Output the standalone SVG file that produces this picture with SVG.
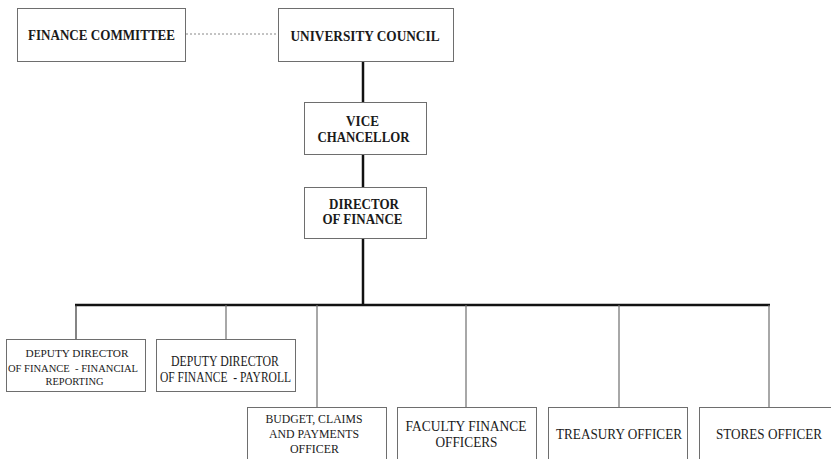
<svg xmlns="http://www.w3.org/2000/svg" width="831" height="459" viewBox="0 0 831 459">
<defs>
<style>
.box{fill:#fff;stroke:#6e6e6e;stroke-width:1}
.thick{stroke:#111;stroke-width:2.5;fill:none}
.thin{stroke:#6e6e6e;stroke-width:1.2;fill:none}
text{font-family:'Liberation Serif',serif;fill:#1a1a1a;text-anchor:middle;white-space:pre}
.b{font-weight:bold;font-size:14px}
.s{font-size:11.3px}
.m{font-size:12.5px}
.r{font-size:14px}
.l{font-size:15px}
</style>
</defs>
<rect width="831" height="459" fill="#fff"/>
<g id="connectors">
<line x1="186" y1="34" x2="278" y2="34" stroke="#888" stroke-width="1" stroke-dasharray="2,2"/>
<line class="thick" x1="363" y1="61" x2="363" y2="102"/>
<line class="thick" x1="363" y1="154" x2="363" y2="187"/>
<line class="thick" x1="363" y1="238" x2="363" y2="305"/>
<line class="thick" x1="75" y1="305" x2="770" y2="305"/>
<line x1="76" y1="305" x2="76" y2="339" stroke="#333" stroke-width="1.2"/>
<line class="thin" x1="226" y1="305" x2="226" y2="339"/>
<line class="thin" x1="317" y1="305" x2="317" y2="407"/>
<line class="thin" x1="466" y1="305" x2="466" y2="407"/>
<line class="thin" x1="619" y1="305" x2="619" y2="407"/>
<line class="thin" x1="769" y1="305" x2="769" y2="407"/>
</g>
<g id="finance-committee">
<rect class="box" x="17.5" y="8.5" width="168" height="53"/>
<text class="b" x="101.5" y="40" textLength="147" lengthAdjust="spacingAndGlyphs">FINANCE COMMITTEE</text>
</g>
<g id="university-council">
<rect class="box" x="278.5" y="8.5" width="175" height="53"/>
<text class="b" x="365" y="40.5" textLength="149" lengthAdjust="spacingAndGlyphs">UNIVERSITY COUNCIL</text>
</g>
<g id="vice-chancellor">
<rect class="box" x="304.5" y="102.5" width="122" height="52"/>
<text class="b" x="362.5" y="126" textLength="33" lengthAdjust="spacingAndGlyphs">VICE</text>
<text class="b" x="363.5" y="141.5" textLength="92" lengthAdjust="spacingAndGlyphs">CHANCELLOR</text>
</g>
<g id="director-of-finance">
<rect class="box" x="304.5" y="187.5" width="122" height="51"/>
<text class="b" x="364" y="209" textLength="70" lengthAdjust="spacingAndGlyphs">DIRECTOR</text>
<text class="b" x="362.5" y="224.3" textLength="80" lengthAdjust="spacingAndGlyphs">OF FINANCE</text>
</g>
<g id="deputy-reporting">
<rect class="box" x="6.5" y="339.5" width="139" height="52"/>
<text class="s" x="77" y="357" textLength="103" lengthAdjust="spacingAndGlyphs">DEPUTY DIRECTOR</text>
<text class="s" x="73" y="371.5" textLength="130" lengthAdjust="spacingAndGlyphs">OF FINANCE  - FINANCIAL</text>
<text class="s" x="74.5" y="384.5" textLength="58" lengthAdjust="spacingAndGlyphs">REPORTING</text>
</g>
<g id="deputy-payroll">
<rect class="box" x="156.5" y="339.5" width="139" height="52"/>
<text class="r" x="225" y="366" textLength="108" lengthAdjust="spacingAndGlyphs">DEPUTY DIRECTOR</text>
<text class="r" x="225.5" y="381.5" textLength="131" lengthAdjust="spacingAndGlyphs">OF FINANCE  - PAYROLL</text>
</g>
<g id="budget-officer">
<rect class="box" x="247.5" y="407.5" width="139" height="60"/>
<text class="m" x="314" y="423.3" textLength="97" lengthAdjust="spacingAndGlyphs">BUDGET, CLAIMS</text>
<text class="m" x="314" y="438.3" textLength="90" lengthAdjust="spacingAndGlyphs">AND PAYMENTS</text>
<text class="m" x="314.5" y="452.7" textLength="49" lengthAdjust="spacingAndGlyphs">OFFICER</text>
</g>
<g id="faculty-finance">
<rect class="box" x="397.5" y="407.5" width="139" height="60"/>
<text class="l" x="466" y="431" textLength="121" lengthAdjust="spacingAndGlyphs">FACULTY FINANCE</text>
<text class="l" x="466.5" y="447" textLength="62" lengthAdjust="spacingAndGlyphs">OFFICERS</text>
</g>
<g id="treasury-officer">
<rect class="box" x="548.5" y="407.5" width="139" height="60"/>
<text class="l" x="619" y="439" textLength="126" lengthAdjust="spacingAndGlyphs">TREASURY OFFICER</text>
</g>
<g id="stores-officer">
<rect class="box" x="699.5" y="407.5" width="140" height="60"/>
<text class="l" x="769" y="439" textLength="106" lengthAdjust="spacingAndGlyphs">STORES OFFICER</text>
</g>
</svg>
